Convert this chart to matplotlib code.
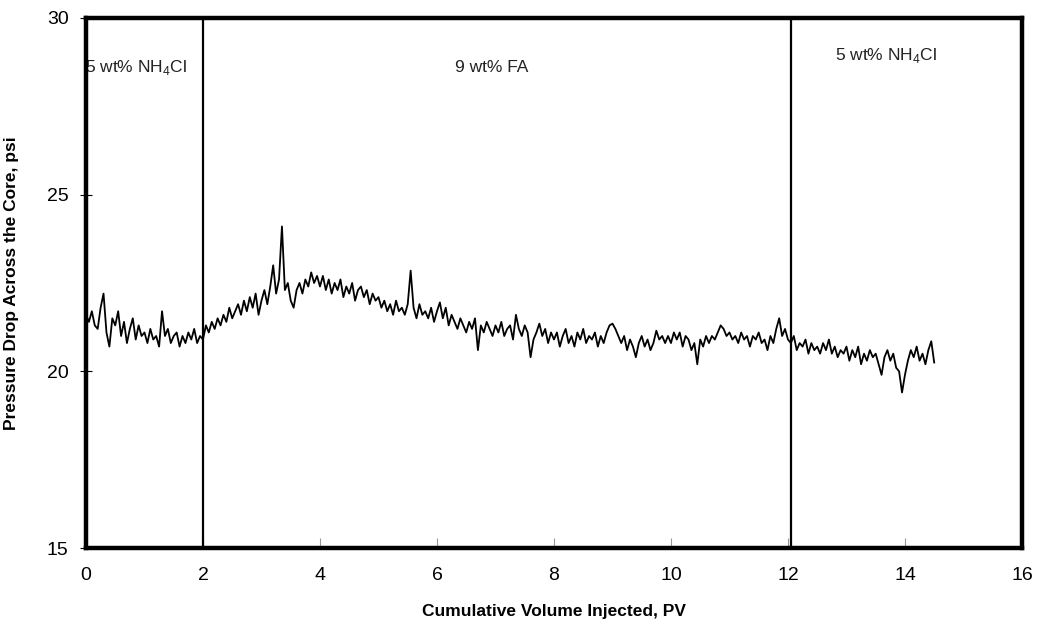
import numpy as np
import matplotlib
matplotlib.use("Agg")
import matplotlib.pyplot as plt

plt.rcParams["font.family"] = ["Liberation Sans Narrow", "Liberation Sans", "DejaVu Sans"]
plt.rcParams["mathtext.fontset"] = "custom"
plt.rcParams["mathtext.rm"] = "Liberation Sans"

# pressure drop (psi), every 0.05 PV from 0 to 14.5 PV
PV_STEP = 0.05
DP = [
    # 0.00 - 0.95
    21.6, 21.4, 21.7, 21.3, 21.2, 21.8, 22.2, 21.1, 20.7, 21.5,
    21.3, 21.7, 21.0, 21.4, 20.8, 21.2, 21.5, 20.9, 21.3, 21.0,
    # 1.00 - 1.95
    21.1, 20.8, 21.2, 20.9, 21.0, 20.7, 21.7, 21.0, 21.2, 20.8,
    21.0, 21.1, 20.7, 21.0, 20.8, 21.1, 20.9, 21.2, 20.8, 21.0,
    # 2.00 - 2.95
    20.9, 21.3, 21.1, 21.4, 21.2, 21.5, 21.3, 21.6, 21.4, 21.8,
    21.5, 21.7, 21.9, 21.6, 22.0, 21.7, 22.1, 21.8, 22.2, 21.6,
    # 3.00 - 3.95
    22.0, 22.3, 21.9, 22.4, 23.0, 22.2, 22.6, 24.1, 22.3, 22.5,
    22.0, 21.8, 22.3, 22.5, 22.2, 22.6, 22.4, 22.8, 22.5, 22.7,
    # 4.00 - 4.95
    22.4, 22.7, 22.3, 22.6, 22.2, 22.5, 22.3, 22.6, 22.1, 22.4,
    22.2, 22.5, 22.0, 22.3, 22.4, 22.1, 22.3, 21.9, 22.2, 22.0,
    # 5.00 - 5.95
    22.1, 21.8, 22.0, 21.7, 21.9, 21.6, 22.0, 21.7, 21.8, 21.6,
    21.9, 22.85, 21.8, 21.5, 21.9, 21.6, 21.7, 21.5, 21.8, 21.4,
    # 6.00 - 6.95
    21.7, 21.95, 21.5, 21.8, 21.3, 21.6, 21.4, 21.2, 21.5, 21.3,
    21.1, 21.4, 21.2, 21.5, 20.6, 21.3, 21.1, 21.4, 21.2, 21.0,
    # 7.00 - 7.95
    21.3, 21.1, 21.4, 21.0, 21.2, 21.3, 20.9, 21.6, 21.2, 21.0,
    21.3, 21.1, 20.4, 20.9, 21.1, 21.35, 21.0, 21.2, 20.8, 21.1,
    # 8.00 - 8.95
    20.9, 21.1, 20.7, 21.0, 21.2, 20.8, 21.0, 20.7, 21.1, 20.9,
    21.2, 20.8, 21.0, 20.9, 21.1, 20.7, 21.0, 20.8, 21.1, 21.3,
    # 9.00 - 9.95
    21.35, 21.2, 21.0, 20.8, 21.0, 20.6, 20.9, 20.7, 20.4, 20.8,
    21.0, 20.7, 20.9, 20.6, 20.8, 21.15, 20.9, 21.0, 20.8, 21.0,
    # 10.00 - 10.95
    20.8, 21.1, 20.9, 21.1, 20.7, 21.0, 20.9, 20.6, 20.8, 20.2,
    20.9, 20.7, 21.0, 20.8, 21.0, 20.9, 21.1, 21.3, 21.2, 21.0,
    # 11.00 - 11.95
    21.1, 20.9, 21.0, 20.8, 21.1, 20.9, 21.0, 20.7, 21.0, 20.9,
    21.1, 20.8, 20.9, 20.6, 21.0, 20.8, 21.2, 21.5, 21.0, 21.2,
    # 12.00 - 12.95
    20.9, 20.8, 21.0, 20.6, 20.8, 20.7, 20.9, 20.5, 20.8, 20.6,
    20.7, 20.5, 20.8, 20.6, 20.9, 20.5, 20.7, 20.4, 20.6, 20.5,
    # 13.00 - 13.95
    20.7, 20.3, 20.6, 20.4, 20.7, 20.2, 20.5, 20.3, 20.6, 20.4,
    20.5, 20.2, 19.9, 20.4, 20.6, 20.3, 20.5, 20.1, 20.0, 19.4,
    # 14.00 - 14.50
    19.9, 20.3, 20.6, 20.4, 20.7, 20.3, 20.5, 20.2, 20.6, 20.85,
    20.25,
]

STAGE_BOUNDS = [2.0, 12.05]
STAGE_LABELS = [r"5 wt% NH$_4$Cl", "9 wt% FA", r"5 wt% NH$_4$Cl"]
STAGE_LABEL_POS = [(0.86, 28.6), (6.94, 28.6), (13.68, 28.95)]


def main() -> None:
    pv = np.arange(len(DP)) * PV_STEP

    fig = plt.figure(figsize=(10.41, 6.35), dpi=100)
    ax = fig.add_axes([0.0826, 0.137, 0.8991, 0.8347])

    ax.plot(pv, DP, color="black", linewidth=1.3, zorder=3)
    for xb in STAGE_BOUNDS:
        ax.axvline(xb, color="black", linewidth=1.6, zorder=2)

    for txt, (x, y) in zip(STAGE_LABELS, STAGE_LABEL_POS):
        ax.text(x, y, txt, ha="center", va="center", fontsize=12.5,
                family=["Liberation Sans", "DejaVu Sans"], color="#222222",
                clip_on=True, zorder=1)

    ax.set_xlim(0, 16)
    ax.set_ylim(15, 30)
    ax.set_xticks(range(0, 17, 2))
    ax.set_yticks([15, 20, 25, 30])

    for s in ax.spines.values():
        s.set_linewidth(3.2)
        s.set_zorder(4)

    ax.tick_params(axis="x", direction="in", length=7, width=0.8,
                   labelsize=14, pad=14, color="0.6")
    ax.tick_params(axis="y", direction="inout", length=9, width=0.8,
                   labelsize=14, pad=8)

    ax.set_xlabel("Cumulative Volume Injected, PV", fontsize=12.5,
                  fontweight="bold", labelpad=14)
    ax.set_ylabel("Pressure Drop Across the Core, psi", fontsize=12.5,
                  fontweight="bold", labelpad=20)

    fig.savefig("out.png", dpi=100)


if __name__ == "__main__":
    main()
